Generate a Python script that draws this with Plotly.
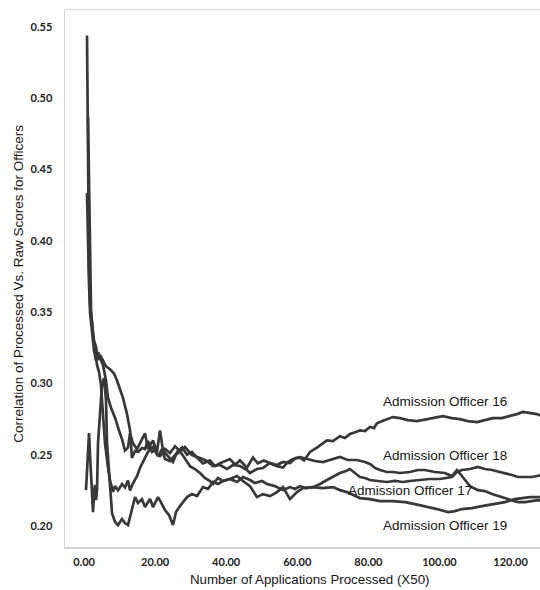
import plotly.graph_objects as go

# ---- data ----
x16 = [0.84, 1.13, 1.41, 1.69, 2.25, 2.81, 3.38, 3.94, 4.50, 5.34, 6.19, 6.75, 7.59, 8.72, 9.85, 10.69, 11.53, 12.38, 12.94, 13.78,
       14.91, 15.75, 17.16, 18.00, 19.41, 20.53, 21.38, 22.22, 23.63, 25.04, 26.2, 27.6, 28.97, 30.38, 31.79, 33.47, 35.44, 36.85, 38.26, 41.07,
       42.5, 43.88, 45.85, 47.54, 48.9, 50.6, 52.32, 54.29, 55.98, 57.4, 58.79, 60.76, 61.9, 63.6, 65.54, 66.9, 68.35, 70.04, 72.01, 73.4,
       74.82, 76.5, 77.64, 79.04, 80.45, 81.6, 82.42, 84.67, 86.92, 88.89, 91.1, 93.67, 96.48, 98.73, 100.98, 103.52, 105.77, 108.0, 110.55, 112.8,
       115.05, 117.58, 119.83, 121.8, 123.49, 125.46, 127.43, 128.8]
y16 = [0.544, 0.45, 0.38, 0.35, 0.335, 0.323, 0.316, 0.322, 0.318, 0.313, 0.302, 0.29, 0.283, 0.276, 0.267, 0.261, 0.253, 0.255, 0.265, 0.258,
       0.254, 0.258, 0.265, 0.254, 0.260, 0.252, 0.267, 0.253, 0.249, 0.245, 0.252, 0.255, 0.25, 0.252, 0.248, 0.244, 0.246, 0.242, 0.244, 0.247,
       0.243, 0.246, 0.241, 0.248, 0.244, 0.246, 0.244, 0.242, 0.241, 0.245, 0.247, 0.248, 0.246, 0.252, 0.255, 0.2575, 0.260, 0.2596, 0.263, 0.2617,
       0.2645, 0.266, 0.267, 0.2666, 0.2695, 0.2687, 0.272, 0.2743, 0.2764, 0.2757, 0.2743, 0.2736, 0.275, 0.2757, 0.2771, 0.2757, 0.275, 0.2736, 0.2729, 0.2743,
       0.2757, 0.2757, 0.2771, 0.2785, 0.28, 0.2792, 0.2785, 0.2771]

x18 = [1.13, 1.41, 1.69, 1.97, 2.53, 3.09, 3.66, 4.22, 4.78, 5.06, 5.63, 5.91, 6.75, 7.31, 7.88, 8.16, 8.72, 9.56, 10.69, 11.53,
       12.38, 12.94, 13.78, 14.91, 15.75, 17.16, 18.00, 19.41, 20.53, 21.38, 22.78, 24.19, 25.6, 27.0, 28.41, 29.82, 31.2, 32.63, 34.0, 35.44,
       36.29, 37.69, 39.10, 41.07, 43.04, 44.73, 46.69, 48.10, 50.1, 51.48, 53.7, 55.98, 57.95, 59.35, 60.76, 62.4, 64.42, 66.4, 68.35, 70.04,
       72.01, 73.7, 74.82, 76.23, 77.64, 79.04, 80.45, 82.7, 85.23, 87.5, 89.73, 91.70, 94.5, 97.33, 100.1, 102.1, 103.52, 104.92, 106.33, 108.58,
       110.83, 112.8, 114.77, 117.0, 118.42, 120.4, 122.08, 124.05, 126.02, 127.43, 128.8]
y18 = [0.487, 0.429, 0.380, 0.3515, 0.334, 0.322, 0.313, 0.308, 0.299, 0.288, 0.271, 0.258, 0.241, 0.232, 0.227, 0.224, 0.228, 0.225, 0.2295, 0.227,
       0.232, 0.225, 0.230, 0.235, 0.2407, 0.2484, 0.252, 0.2554, 0.2505, 0.249, 0.254, 0.2512, 0.256, 0.2526, 0.2477, 0.242, 0.24, 0.2372, 0.2337, 0.2316,
       0.2295, 0.2337, 0.2316, 0.233, 0.2309, 0.2344, 0.2323, 0.2302, 0.2316, 0.2295, 0.228, 0.2252, 0.2273, 0.226, 0.228, 0.2266, 0.2273, 0.2295, 0.2323, 0.2344,
       0.2372, 0.2386, 0.24, 0.2372, 0.2344, 0.2337, 0.2323, 0.2316, 0.2309, 0.2316, 0.2309, 0.2316, 0.2323, 0.233, 0.233, 0.2337, 0.2344, 0.2379, 0.2393, 0.24,
       0.2414, 0.24, 0.2393, 0.2379, 0.2372, 0.2358, 0.2344, 0.2344, 0.2344, 0.2351, 0.2358]

x17 = [0.84, 1.13, 1.41, 1.69, 2.25, 2.81, 3.38, 3.94, 4.50, 5.34, 6.19, 7.31, 8.44, 9.28, 10.13, 10.97, 12.10, 12.94, 13.50, 14.35,
       15.19, 16.32, 17.16, 18.00, 19.13, 19.97, 20.82, 21.94, 22.78, 24.19, 25.60, 27.0, 28.41, 30.38, 32.63, 34.60, 36.29, 38.26, 40.23, 41.91,
       43.88, 45.85, 46.69, 48.66, 50.35, 52.32, 54.29, 55.98, 57.95, 59.6, 60.76, 62.73, 64.98, 67.23, 69.76, 72.01, 74.26, 76.79, 79.04, 80.45,
       81.9, 83.26, 85.23, 86.92, 88.89, 91.70, 93.9, 95.92, 98.73, 101.55, 103.52, 104.92, 106.33, 108.58, 110.83, 112.8, 114.77, 117.58, 119.83, 122.08,
       124.05, 126.02, 127.71, 128.8]
y17 = [0.4335, 0.397, 0.369, 0.355, 0.343, 0.330, 0.3255, 0.3164, 0.320, 0.3164, 0.312, 0.310, 0.307, 0.302, 0.2954, 0.2898, 0.2785, 0.2673, 0.2477, 0.2526,
       0.2519, 0.2547, 0.254, 0.2596, 0.2519, 0.2533, 0.249, 0.254, 0.247, 0.2456, 0.2498, 0.2519, 0.2554, 0.2498, 0.2477, 0.2456, 0.2421, 0.2428, 0.24, 0.2428,
       0.2421, 0.2393, 0.2372, 0.24, 0.2407, 0.2442, 0.2428, 0.2449, 0.2442, 0.2477, 0.2484, 0.247, 0.2456, 0.2449, 0.247, 0.2484, 0.2463, 0.2463, 0.2449, 0.2435,
       0.2407, 0.2393, 0.2379, 0.2379, 0.2372, 0.2379, 0.2393, 0.2393, 0.2379, 0.2372, 0.2351, 0.2393, 0.2351, 0.228, 0.2252, 0.2245, 0.2224, 0.2203, 0.2189, 0.2168,
       0.2168, 0.2175, 0.2182, 0.2175]

x19 = [0.56, 0.84, 1.13, 1.41, 1.69, 1.97, 2.25, 2.53, 2.81, 3.09, 3.38, 3.66, 3.94, 4.50, 5.06, 5.63, 6.19, 6.47, 7.03, 7.31,
       7.88, 8.72, 9.56, 10.69, 11.53, 12.38, 13.50, 14.35, 15.19, 16.32, 17.16, 18.57, 19.41, 20.82, 21.94, 22.78, 23.91, 25.04, 25.88, 27.0,
       28.97, 30.38, 31.79, 33.47, 34.88, 36.29, 37.69, 39.10, 41.07, 43.04, 44.73, 46.69, 48.66, 50.35, 52.32, 54.29, 55.98, 57.95, 59.92, 61.60,
       64.42, 67.23, 70.04, 72.01, 73.98, 76.23, 77.64, 80.45, 83.26, 86.92, 90.30, 93.11, 95.92, 99.30, 102.39, 104.36, 106.33, 109.14, 111.95, 115.05,
       118.42, 121.24, 123.21, 125.46, 127.71, 128.8]
y19 = [0.2252, 0.2393, 0.2554, 0.2652, 0.2498, 0.2323, 0.2147, 0.2098, 0.2217, 0.2288, 0.2182, 0.2252, 0.2582, 0.2813, 0.2989, 0.3038, 0.2884, 0.2582, 0.2393, 0.2273,
       0.2091, 0.2028, 0.2007, 0.2049, 0.2021, 0.2007, 0.2112, 0.2203, 0.2161, 0.2189, 0.2133, 0.2189, 0.2133, 0.2203, 0.2154, 0.2112, 0.2077, 0.2007, 0.2098, 0.214,
       0.2203, 0.2224, 0.221, 0.2273, 0.226, 0.2309, 0.2295, 0.2316, 0.233, 0.2351, 0.2316, 0.228, 0.2203, 0.2224, 0.221, 0.2238, 0.2273, 0.2189, 0.2238, 0.2266,
       0.2273, 0.2266, 0.2273, 0.2252, 0.2238, 0.221, 0.2196, 0.2189, 0.2175, 0.2175, 0.2168, 0.2154, 0.214, 0.2119, 0.2098, 0.2105, 0.2119, 0.2126, 0.214, 0.2154,
       0.2168, 0.2189, 0.2196, 0.2203, 0.2203, 0.2203]

series_names = ["Admission Officer 16", "Admission Officer 18", "Admission Officer 17", "Admission Officer 19"]
label_x = [101.5, 101.5, 91.7, 101.5]
label_y = [0.287, 0.2498, 0.2252, 0.2007]

x_ticks = [0, 20, 40, 60, 80, 100, 120]
x_ticktext = ["0.00", "20.00", "40.00", "60.00", "80.00", "100.00", "120.00"]
y_ticks = [0.20, 0.25, 0.30, 0.35, 0.40, 0.45, 0.50, 0.55]
y_ticktext = ["0.20", "0.25", "0.30", "0.35", "0.40", "0.45", "0.50", "0.55"]

x_title = "Number of Applications Processed (X50)"
y_title = "Correlation of Processed Vs. Raw Scores for Officers"

LINE = "#383838"
fig = go.Figure()
for xs, ys, nm in [(x16, y16, series_names[0]), (x18, y18, series_names[1]),
                   (x17, y17, series_names[2]), (x19, y19, series_names[3])]:
    fig.add_trace(go.Scatter(x=xs, y=ys, mode="lines", name=nm,
                             line=dict(color=LINE, width=2.7), showlegend=False,
                             hoverinfo="skip"))

for nm, lx, ly in zip(series_names, label_x, label_y):
    fig.add_annotation(x=lx, y=ly, text=nm, showarrow=False, xref="x", yref="y",
                       font=dict(family="Liberation Sans, Arial", size=13.5, color="#151515"))

fig.add_annotation(x=0.515, y=-0.06, xref="paper", yref="paper", text=x_title, showarrow=False,
                   xanchor="center", yanchor="middle",
                   font=dict(family="Liberation Sans, Arial", size=13.3, color="#151515"))
fig.add_annotation(x=-0.097, y=0.49, xref="paper", yref="paper", text=y_title, showarrow=False,
                   textangle=-90, xanchor="center", yanchor="middle",
                   font=dict(family="Liberation Sans, Arial", size=13.5, color="#151515"))

tickfont = dict(family="Lato, Open Sans, sans-serif", size=11, color="#222222", weight="bold")
fig.update_layout(
    width=540, height=590,
    margin=dict(l=65, r=0, t=10, b=43),
    paper_bgcolor="white", plot_bgcolor="white",
    hovermode=False,
    xaxis=dict(range=[-5.35, 128.3], tickvals=x_ticks, ticktext=x_ticktext,
               showgrid=False, zeroline=False, showline=True, linecolor="#d4d4d4",
               linewidth=1.5, mirror=True, ticks="", ticklabelstandoff=4, tickfont=tickfont),
    yaxis=dict(range=[0.1853, 0.5619], tickvals=y_ticks, ticktext=y_ticktext,
               showgrid=False, zeroline=False, showline=True, linecolor="#d4d4d4",
               linewidth=1.5, ticks="", ticklabelstandoff=9, tickfont=tickfont),
)

fig.write_html("out.html", config={"displayModeBar": False, "staticPlot": True},
               post_script="document.body.style.margin='0';document.body.style.overflow='hidden';")
